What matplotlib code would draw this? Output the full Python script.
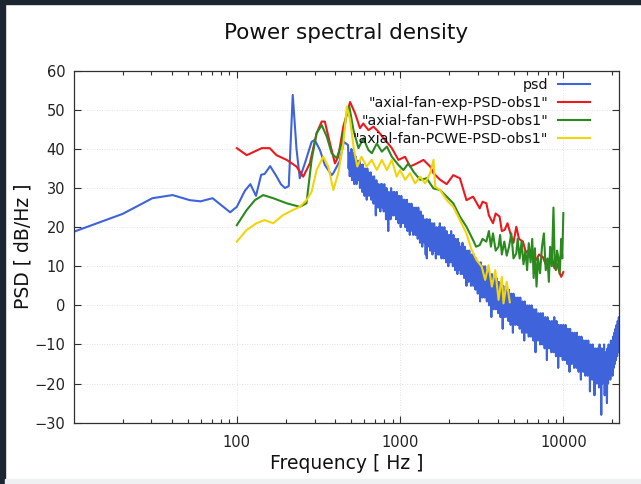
import numpy as np
import matplotlib
matplotlib.use("Agg")
import matplotlib.pyplot as plt
from matplotlib.patches import Rectangle
from matplotlib.ticker import FixedLocator, NullFormatter

# --- data --------------------------------------------------------------
# simulated psd, coarse low-frequency part (Hz, dB/Hz)
psd_lo_f = [10, 20, 30.4, 40.4, 51.5, 60, 71, 91, 100, 112, 121, 131, 141, 148,
            160, 175, 186, 197, 208, 220, 232, 243, 261, 287, 300, 323, 346,
            381, 390, 428, 452]
psd_lo_v = [18.8, 23.4, 27.4, 28.2, 26.9, 26.6, 27.4, 23.8, 25.2, 29.3, 31, 28,
            33.4, 33.6, 35.6, 33, 31, 30, 30.5, 53.8, 40, 32.5, 36.3, 41.8,
            42.3, 39.7, 35.9, 33.3, 33.8, 37, 41.8]

# simulated psd, dense part from 480 Hz to 22050 Hz (log-spaced bins)
psd_hi_v = [
    41, 35, 39, 33, 38, 34, 40, 32, 37, 35, 39, 31, 36, 34, 38, 31, 37, 33, 35, 32,
    37, 30, 36, 31, 35, 29, 36, 32, 34, 28, 35, 31, 33, 27, 35, 30, 34, 28, 32, 29,
    34, 27, 33, 28, 32, 26, 33, 29, 31, 23, 32, 27, 30, 25, 31, 27, 29, 24, 31, 26,
    31, 25, 30, 24, 31, 26, 29, 22, 30, 25, 28, 19, 29, 24, 28, 22, 30, 25, 28, 23,
    29, 23, 29, 24, 28, 22, 29, 23, 27, 21, 28, 24, 27, 20, 28, 22, 26, 21, 27, 22,
    27, 20, 26, 21, 27, 19, 25, 21, 26, 18, 25, 20, 26, 19, 24, 18, 25, 20, 23, 18,
    25, 18, 24, 17, 25, 19, 23, 16, 24, 18, 22, 15, 23, 17, 22, 16, 21, 13, 22, 12,
    22, 15, 21, 16, 22, 14, 20, 15, 21, 13, 20, 15, 21, 14, 19, 12, 20, 15, 19, 13,
    20, 13, 21, 15, 19, 12, 20, 14, 18, 12, 20, 13, 18, 11, 19, 13, 17, 10, 18, 12,
    18, 11, 19, 12, 17, 10, 18, 12, 16, 9, 17, 11, 16, 8, 17, 10, 16, 9, 15, 8,
    15, 8, 16, 9, 14, 7, 15, 9, 13, 5, 14, 8, 13, 6, 14, 7, 12, 5, 13, 6,
    12, 5, 13, 6, 11, 4, 12, 5, 10, 3, 11, 4, 10, 1, 11, 4, 9, 2, 10, 3,
    9, 2, 10, 3, 8, 1, 9, 2, 7, 0, 8, 1, 7, -3, 8, 1, 6, -1, 7, 0,
    6, -1, 7, 0, 5, -2, 6, -1, 4, -3, 5, -1, 4, -6, 5, -2, 3, -3, 4, -2,
    4, -3, 3, -4, 4, -2, 2, -5, 3, -3, 2, -7, 3, -4, 1, -5, 2, -3, 1, -5,
    2, -5, 1, -6, 2, -4, 0, -7, 1, -5, 0, -9, 1, -6, -1, -7, 0, -5, -1, -8,
    0, -7, -1, -8, 0, -6, -2, -9, -1, -7, -2, -12, -1, -8, -3, -9, -2, -7, -3, -10,
    -2, -9, -3, -10, -2, -8, -4, -11, -3, -9, -4, -14, -3, -10, -5, -11, -4, -9, -5, -12,
    -4, -11, -5, -12, -3, -10, -6, -13, -4, -11, -6, -16, -5, -12, -7, -13, -5, -11, -6, -14,
    -5, -13, -6, -14, -5, -12, -7, -15, -6, -13, -8, -17, -6, -14, -8, -15, -7, -13, -8, -16,
    -7, -15, -8, -16, -7, -14, -9, -17, -8, -15, -10, -19, -8, -16, -10, -17, -9, -15, -10, -18,
    -9, -17, -10, -18, -9, -16, -11, -22, -10, -17, -12, -19, -10, -18, -12, -23, -11, -17, -12, -20,
    -11, -19, -12, -21, -10, -18, -13, -28, -11, -20, -14, -19, -10, -23, -12, -19, -13, -25, -11, -20,
    -10, -18, -11, -19, -9, -17, -10, -18, -8, -16, -7, -15, -6, -14, -5, -13, -4, -12, -3, -9,
]
psd_hi_f = np.geomspace(480, 22050, len(psd_hi_v))

# experiment
exp_f = [100, 115, 142, 159, 175, 202, 232, 255, 280, 308, 331, 346, 372, 399,
         418, 449, 494, 530, 568, 595, 640, 687, 737, 810, 890, 977, 1073, 1150,
         1267, 1390, 1529, 1602, 1760, 1930, 2117, 2325, 2551, 2800, 3075, 3200,
         3376, 3500, 3707, 3850, 4069, 4200, 4370, 4550, 4797, 4950, 5150, 5350,
         5655, 5900, 6208, 6500, 6815, 7100, 7480, 7800, 8210, 8500, 8817, 9050,
         9250, 9500, 9710, 10000]
exp_v = [40.2, 38.4, 40.2, 40.2, 38.4, 37.2, 35.5, 32.9, 36.3, 44, 47, 47, 41.4,
         36.3, 38, 45.7, 52, 49.1, 45.3, 46.5, 44.8, 45.7, 44.4, 42.3, 40.2, 37.2,
         38, 35.5, 36.3, 37.2, 35.5, 33.8, 32.1, 31, 33.3, 32.5, 26.9, 27.8, 24.8,
         26.5, 26.1, 23, 21, 23.5, 22.7, 19, 19.3, 21, 17.6, 16, 20.1, 17, 16.3,
         13.5, 14.2, 12, 11.6, 13, 12.4, 10.5, 11.6, 12.5, 9.5, 11, 9.9, 8.2, 7.3,
         8.5]

# FWH
fwh_f = [100, 115, 129, 145, 167, 202, 243, 267, 287, 308, 331, 356, 381, 409,
         439, 472, 489, 518, 556, 596, 640, 672, 720, 773, 830, 890, 977, 1048,
         1125, 1207, 1327, 1456, 1600, 1758, 1930, 2117, 2325, 2551, 2800, 2920,
         3075, 3200, 3376, 3500, 3600, 3707, 3850, 4010, 4100, 4200, 4350, 4500,
         4650, 4800, 4950, 5150, 5250, 5400, 5550, 5700, 5860, 6000, 6140, 6300,
         6450, 6580, 6700, 6850, 7000, 7200, 7400, 7600, 7800, 8000, 8150, 8300,
         8500, 8700, 8850, 9000, 9150, 9300, 9500, 9710, 9850, 10000]
fwh_v = [20.5, 24.4, 26.9, 28.2, 27.4, 26.1, 25.2, 26.1, 37.2, 44, 46.1, 43.1,
         38.9, 37.6, 41.4, 49.1, 50.8, 44.8, 40.2, 42.7, 39.7, 38.9, 41.4, 39.3,
         40.6, 38, 35.9, 34.6, 36.3, 34.2, 32.1, 32.5, 29.9, 29.5, 27.8, 26.1,
         22.7, 20.1, 16.7, 15, 15.4, 17, 16.3, 19, 15, 18.4, 14, 15, 18, 13, 16.3,
         12.7, 15, 18.4, 12, 13.3, 17, 12, 16.3, 10.5, 14, 9, 15.9, 11, 17, 7,
         14.6, 4.8, 12, 8.2, 15, 18.4, 9, 12, 6, 15, 10, 25, 11.6, 9, 14, 12.5, 8,
         17, 12, 23.6]

# PCWE
pcwe_f = [100, 115, 132, 148, 167, 192, 221, 243, 267, 287, 308, 338, 363, 390,
          418, 449, 472, 494, 522, 547, 580, 623, 670, 720, 773, 830, 890, 953,
          1000, 1073, 1150, 1236, 1327, 1424, 1529, 1602, 1640, 1760, 1930, 2117,
          2325, 2551, 2740, 2940, 3160, 3320, 3480, 3650, 3830, 4010, 4200, 4300,
          4500, 4700]
pcwe_v = [16.3, 19.3, 21, 21.8, 21, 23.1, 24.4, 25.2, 26.9, 29, 34.6, 38, 35.5,
          29.5, 33.8, 41.4, 50.8, 47.4, 39.7, 35.5, 38, 35.5, 37.2, 34.6, 37.2,
          34.6, 37.2, 32.9, 34.6, 32.1, 33.8, 31.2, 32.9, 31.2, 33.8, 37.2, 30.3,
          29.5, 26.9, 25.2, 21.8, 18.4, 14.2, 11.6, 9.9, 6.5, 10.3, 4.8, 9, 1.4,
          7.3, 0.5, 6, 0.8]

labels = ['psd', '"axial-fan-exp-PSD-obs1"', '"axial-fan-FWH-PSD-obs1"',
          '"axial-fan-PCWE-PSD-obs1"']
colors = ['#3e63db', '#ea1a1f', '#2a8a1e', '#f2d40c']
yticks = [-30, -20, -10, 0, 10, 20, 30, 40, 50, 60]
xticks = [100, 1000, 10000]

# --- figure --------------------------------------------------------------
plt.rcParams['font.family'] = ['DejaVu Sans']
fig = plt.figure(figsize=(6.41, 4.84), dpi=100, facecolor='white')
ax = fig.add_axes([0.1148, 0.1267, 0.8515, 0.7272])

psd_f = np.concatenate([psd_lo_f, psd_hi_f])
psd_v = np.concatenate([psd_lo_v, psd_hi_v])

ax.plot(psd_f, psd_v, color=colors[0], lw=1.5, label=labels[0], zorder=2)
ax.plot(exp_f, exp_v, color=colors[1], lw=1.5, label=labels[1], zorder=3)
ax.plot(fwh_f, fwh_v, color=colors[2], lw=1.5, label=labels[2], zorder=4)
ax.plot(pcwe_f, pcwe_v, color=colors[3], lw=1.5, label=labels[3], zorder=5)

ax.set_xscale('log')
ax.set_xlim(10, 22050)
ax.set_ylim(-30, 60)
ax.xaxis.set_major_locator(FixedLocator(xticks))
ax.set_xticklabels([str(t) for t in xticks])
minors = [m * 10 ** d for d in range(1, 5) for m in range(2, 10)]
ax.xaxis.set_minor_locator(FixedLocator([m for m in minors if m < 22050]))
ax.xaxis.set_minor_formatter(NullFormatter())
ax.set_yticks(yticks)

ax.tick_params(which='both', direction='in', top=True, right=True,
               color='#303030', labelsize=10.5, labelcolor='#222222')
ax.tick_params(which='major', length=5, width=0.8)
ax.tick_params(which='minor', length=3, width=0.8)
ax.tick_params(axis='y', pad=6)
ax.tick_params(axis='x', pad=9)
for s in ax.spines.values():
    s.set_color('#303030')
    s.set_linewidth(0.9)

ax.grid(True, which='major', color='#d9d9d9', lw=0.6, ls=(0, (1, 2)))
ax.set_axisbelow(True)

ax.set_title('Power spectral density', fontsize=15.5, pad=22.5, color='#111111')
ax.set_xlabel('Frequency [ Hz ]', fontsize=13.5, labelpad=3, color='#111111')
ax.set_ylabel('PSD [ dB/Hz ]', fontsize=13.5, labelpad=1.5, color='#111111')

leg = ax.legend(loc='upper right', bbox_to_anchor=(0.946, 0.978),
                markerfirst=False, frameon=False, fontsize=10.3,
                handlelength=2.2, handletextpad=0.7, labelspacing=0.28,
                borderpad=0, borderaxespad=0)
for t in leg.get_texts():
    t.set_color('#111111')

# dark screenshot frame along the top and left edge
fig.patches.append(Rectangle((0, 0.991), 1, 0.009, transform=fig.transFigure,
                             color='#1b2630', zorder=0))
fig.patches.append(Rectangle((0, 0), 0.008, 1, transform=fig.transFigure,
                             color='#1b2630', zorder=0))
fig.patches.append(Rectangle((0.008, 0), 0.992, 0.01, transform=fig.transFigure,
                             color='#eef0f2', zorder=0))

fig.savefig('out.png', dpi=100, facecolor='white')
